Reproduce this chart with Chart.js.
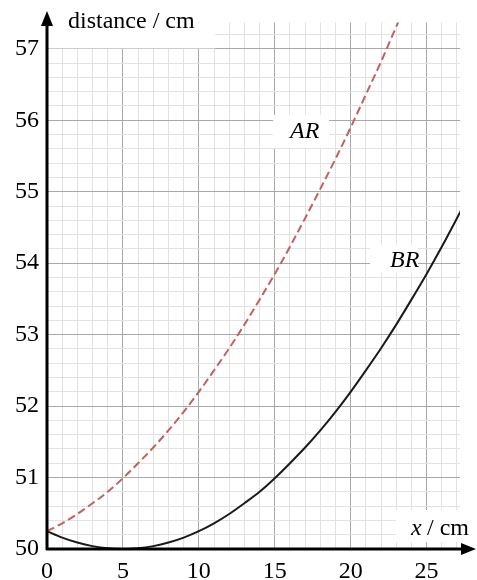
<!DOCTYPE html>
<html>
<head>
<meta charset="utf-8">
<script src="https://cdn.jsdelivr.net/npm/chart.js@4"></script>
<style>
  html, body { margin: 0; padding: 0; background: #fff; }
  #wrap { width: 477px; height: 580px; }
</style>
</head>
<body>
<div id="wrap"><canvas id="distChart"></canvas></div>
<script>
// values, one point per cm
const xValues = [0, 1, 2, 3, 4, 5, 6, 7, 8, 9, 10, 11, 12, 13, 14, 15, 16, 17, 18, 19, 20, 21, 22, 23, 24, 25, 26, 27, 28];
const arValues = [50.25, 50.36, 50.49, 50.64, 50.80, 50.99, 51.20, 51.42, 51.66, 51.92, 52.20, 52.50, 52.81, 53.14,
                  53.49, 53.85, 54.23, 54.63, 55.04, 55.46, 55.90, 56.36, 56.82, 57.31, 57.80];
const brValues = [50.25, 50.16, 50.09, 50.04, 50.01, 50.00, 50.01, 50.04, 50.09, 50.16, 50.25, 50.36, 50.49, 50.64,
                  50.80, 50.99, 51.20, 51.42, 51.66, 51.92, 52.20, 52.50, 52.81, 53.14, 53.49, 53.85, 54.23, 54.63, 55.04];
const xTickLabels = [0, 5, 10, 15, 20, 25];
const yTickLabels = [50, 51, 52, 53, 54, 55, 56, 57];

const serif = '"Liberation Serif", "Times New Roman", serif';

function isMajor(v, list) {
    return list.some(t => Math.abs(t - v) < 1e-6);
}

const axesAndLabels = {
    id: 'axesAndLabels',
    beforeDatasetsDraw(chart) {
        const ctx = chart.ctx;
        const a = chart.chartArea;
        ctx.save();
        ctx.fillStyle = '#fff';
        ctx.fillRect(49, a.top, 166, 26);
        ctx.fillRect(273, 115, 56, 33);
        ctx.fillRect(370, 245, 48, 28);
        ctx.fillRect(396, 510, 78, 32);

        ctx.fillStyle = '#000';
        ctx.textBaseline = 'middle';
        ctx.font = '24px ' + serif;
        ctx.fillText('distance / cm', 68, 22);
        ctx.font = 'italic 24px ' + serif;
        ctx.fillText('AR', 290, 132);
        ctx.fillText('BR', 390, 261);
        ctx.fillText('x', 411, 529);
        ctx.font = '24px ' + serif;
        ctx.fillText(' / cm', 421, 529);
        ctx.restore();
    },
    afterDraw(chart) {
        const ctx = chart.ctx;
        const x0 = chart.scales.x.getPixelForValue(0);
        const y0 = chart.scales.y.getPixelForValue(50);
        ctx.save();
        ctx.strokeStyle = '#000';
        ctx.fillStyle = '#000';
        ctx.lineWidth = 3;
        ctx.beginPath();
        ctx.moveTo(x0, y0 + 1);
        ctx.lineTo(x0, 22);
        ctx.moveTo(x0 - 1, y0);
        ctx.lineTo(464, y0);
        ctx.stroke();
        ctx.beginPath();
        ctx.moveTo(x0, 11);
        ctx.lineTo(x0 - 6, 26);
        ctx.lineTo(x0 + 6, 26);
        ctx.closePath();
        ctx.fill();
        ctx.beginPath();
        ctx.moveTo(476, y0);
        ctx.lineTo(461, y0 - 6);
        ctx.lineTo(461, y0 + 6);
        ctx.closePath();
        ctx.fill();
        ctx.restore();
    }
};

const ctx = document.getElementById('distChart').getContext('2d');
new Chart(ctx, {
    type: 'line',
    data: {
        datasets: [{
            label: 'AR',
            data: arValues.map((v, i) => ({ x: xValues[i], y: v })),
            borderColor: '#c0635c',
            borderWidth: 2,
            borderDash: [8, 4],
            pointRadius: 0,
            cubicInterpolationMode: 'monotone',
            fill: false
        }, {
            label: 'BR',
            data: brValues.map((v, i) => ({ x: xValues[i], y: v })),
            borderColor: '#1a1a1a',
            borderWidth: 2,
            pointRadius: 0,
            cubicInterpolationMode: 'monotone',
            fill: false
        }]
    },
    options: {
        responsive: true,
        maintainAspectRatio: false,
        animation: false,
        layout: { padding: { top: 10, right: 17, left: 0, bottom: 0 } },
        plugins: {
            legend: { display: false },
            tooltip: { enabled: false }
        },
        scales: {
            x: {
                type: 'linear',
                min: 0,
                max: 27.2,
                border: { display: false },
                grid: {
                    drawTicks: false,
                    color: c => isMajor(c.tick.value, xTickLabels) ? '#a8a8a8' : '#e2e2e2'
                },
                ticks: {
                    stepSize: 1,
                    autoSkip: false,
                    includeBounds: false,
                    maxRotation: 0,
                    padding: 8,
                    color: '#000',
                    font: { family: serif, size: 24 },
                    callback: v => isMajor(v, xTickLabels) ? String(Math.round(v)) : ''
                },
                afterFit: s => { s.height = 31; }
            },
            y: {
                min: 50,
                max: 57.37,
                border: { display: false },
                grid: {
                    drawTicks: false,
                    color: c => isMajor(c.tick.value, yTickLabels) ? '#a8a8a8' : '#e2e2e2'
                },
                ticks: {
                    stepSize: 0.2,
                    autoSkip: false,
                    includeBounds: false,
                    padding: 8,
                    color: '#000',
                    font: { family: serif, size: 24 },
                    callback: v => isMajor(v, yTickLabels) ? String(Math.round(v)) : ''
                },
                afterFit: s => { s.width = 47; }
            }
        }
    },
    plugins: [axesAndLabels]
});
</script>
</body>
</html>
